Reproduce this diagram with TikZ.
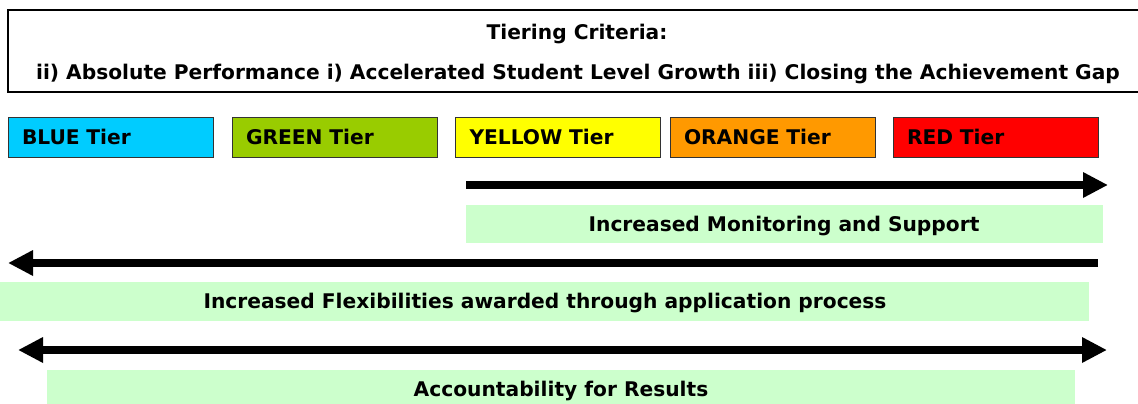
\documentclass[tikz,border=0pt]{standalone}
\usepackage{fontspec}
\setmainfont{DejaVu Sans}
\usetikzlibrary{arrows.meta}
\definecolor{tierblue}{HTML}{00CCFF}
\definecolor{tiergreen}{HTML}{99CC00}
\definecolor{tieryellow}{HTML}{FFFF00}
\definecolor{tierorange}{HTML}{FF9900}
\definecolor{tierred}{HTML}{FF0000}
\definecolor{paleband}{HTML}{CCFFCC}

\begin{document}
\begin{tikzpicture}[x=1pt,y=-1pt,
    every node/.style={font=\fontsize{20.2}{24}\selectfont\bfseries},
    tierbox/.style={draw=black!80,line width=1pt,minimum width=205pt,minimum height=40pt,
      text width=177pt,align=left,inner sep=0pt},
    band/.style={fill=paleband,draw=none,anchor=north west,inner sep=0pt},
    bigarrow/.style={line width=8pt,>={Triangle[length=25pt,width=24pt]}}]
  \useasboundingbox (0,0) rectangle (1138,404);
  % criteria box (runs off the right edge)
  \node[draw,line width=1.2pt,minimum width=1136pt,minimum height=82pt,inner sep=0pt] (crit) at (576,51) {};
  \node (crittitle) at (577,34) {Tiering Criteria:};
  \node (critlist) at (578,74) {ii) Absolute Performance i) Accelerated Student Level Growth iii) Closing the Achievement Gap};
  % tiers
  \node[tierbox,fill=tierblue] (blue) at (110.5,137) {BLUE Tier};
  \node[tierbox,fill=tiergreen] (green) at (334.5,137) {GREEN Tier};
  \node[tierbox,fill=tieryellow] (yellow) at (558,137) {YELLOW Tier};
  \node[tierbox,fill=tierorange] (orange) at (772.5,137) {ORANGE Tier};
  \node[tierbox,fill=tierred] (red) at (995.5,137) {RED Tier};
  % monitoring
  \coordinate (monstart) at (466,185);
  \coordinate (monend) at (1108,185);
  \draw[bigarrow,->] (monstart) -- (monend);
  \node[band,minimum width=637pt,minimum height=38pt] (monband) at (466,205) {};
  \node (montext) at (784,226) {Increased Monitoring and Support};
  % flexibilities
  \coordinate (flexstart) at (1098,263);
  \coordinate (flexend) at (8,263);
  \draw[bigarrow,->] (flexstart) -- (flexend);
  \node[band,minimum width=1089pt,minimum height=39pt] (flexband) at (0,282) {};
  \node (flextext) at (545,303) {Increased Flexibilities awarded through application process};
  % accountability
  \coordinate (accleft) at (18,350);
  \coordinate (accright) at (1107,350);
  \draw[bigarrow,<->] (accleft) -- (accright);
  \node[band,minimum width=1028pt,minimum height=34pt] (accband) at (47,370) {};
  \node (acctext) at (561,391) {Accountability for Results};
\end{tikzpicture}
\end{document}
